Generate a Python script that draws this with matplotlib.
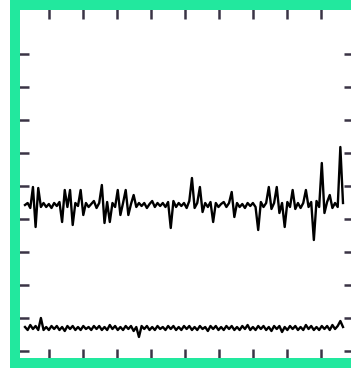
import numpy as np
import matplotlib
matplotlib.use("Agg")
import matplotlib.pyplot as plt

# upper trace (baseline ~146) and lower trace (baseline ~23), deviations
upper_base = 146
upper_dev = [0, 2, -3, 18, -22, 17, -2, 2, -2, 1, -3, 2, -1, 3, -17, 15, -2, 15, -20, 2,
             -1, 15, -10, 2, -2, 1, 4, -3, 2, 20, -18, 3, -17, 2, -2, 15, -10, 2, 15, -10,
             1, 10, -2, 2, -1, 2, -3, 1, 4, -2, 2, -1, 2, -2, 3, -23, 4, -2, 2, -1,
             2, -3, 4, 27, -3, 2, 18, -7, 2, -2, 3, -17, 2, -2, 1, 3, -2, 2, 13, -12,
             2, -2, 1, -3, 2, -1, 2, -2, -25, 3, -2, 2, 18, -4, 2, 18, -8, 2, -22, 3,
             -2, 15, -4, 2, -3, 2, 15, -2, 3, -35, 4, -2, 42, -8, 3, 10, -3, 2, -2, 58, 2]

lower_base = 23
lower_dev = [1, -2, 3, -1, 2, -2, 10, -2, 1, -2, 2, -1, 2, -2, 1, -3, 2, -1, 2, -2,
             1, -2, 2, -1, 1, -2, 2, -1, 2, -2, 1, -2, 3, -1, 2, -2, 1, -2, 2, -1,
             2, -3, 1, -9, 2, -1, 2, -2, 1, -2, 2, -1, 1, -2, 2, -1, 2, -2, 1, -2,
             2, -1, 2, -2, 1, -2, 2, -1, 1, -3, 2, -1, 2, -2, 1, -2, 2, -1, 2, -2,
             1, -2, 2, -1, 3, -2, 1, -2, 2, -1, 2, -2, 1, -3, 2, -1, 2, -4, 1, -2,
             2, -1, 2, -2, 1, -2, 3, -1, 2, -2, 1, -2, 2, -1, 2, -2, 3, -1, 2, 7, 1]

x_ticks = np.arange(0, 300, 34)
y_ticks = np.arange(0, 300, 33)

upper = upper_base + np.array(upper_dev)
lower = lower_base + np.array(lower_dev)
t = np.linspace(-24, 294, len(upper))

fig = plt.figure(figsize=(3.51, 3.68), dpi=100)
ax = fig.add_axes([15/351, 5/368, 343/351, 358/368])

ax.plot(t, upper, color='black', lw=1.7)
ax.plot(t, lower, color='black', lw=1.7)

ax.set_xlim(-34, 309)
ax.set_ylim(-12, 346)
ax.set_xticks(x_ticks)
ax.set_yticks(y_ticks)
ax.tick_params(direction='in', length=10, width=1.8, color='#3a3445',
               top=True, right=True, labelbottom=False, labelleft=False)

green = '#22e89e'
for s in ['left', 'top', 'bottom']:
    ax.spines[s].set_color(green)
    ax.spines[s].set_linewidth(7.2)
ax.spines['right'].set_visible(False)

fig.savefig('out.png', dpi=100)
